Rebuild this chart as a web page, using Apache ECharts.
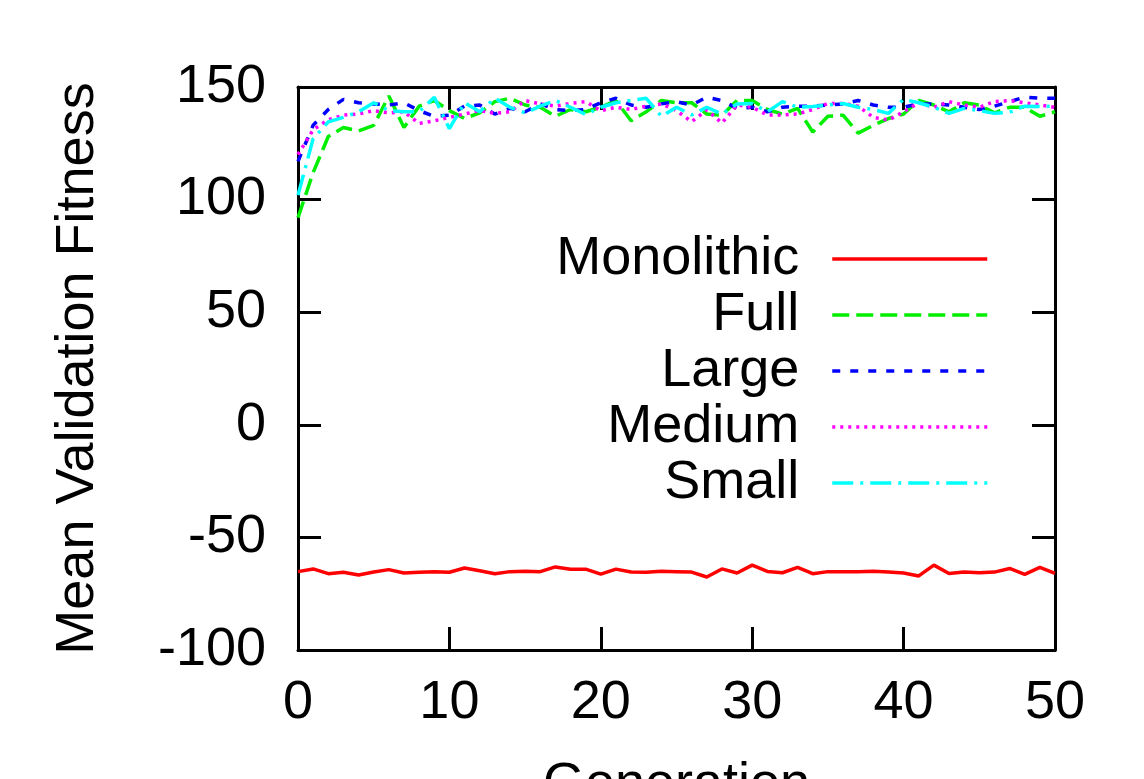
<!DOCTYPE html>
<html>
<head>
<meta charset="utf-8">
<script src="https://cdn.jsdelivr.net/npm/echarts@6/dist/echarts.min.js"></script>
<style>
  html, body { margin: 0; padding: 0; background: #fff; }
  #chart { width: 1144px; height: 779px; }
</style>
</head>
<body>
<div id="chart"></div>
<script>
const generation = [0, 1, 2, 3, 4, 5, 6, 7, 8, 9, 10, 11, 12, 13, 14, 15, 16, 17, 18, 19, 20,
  21, 22, 23, 24, 25, 26, 27, 28, 29, 30, 31, 32, 33, 34, 35, 36, 37, 38, 39, 40,
  41, 42, 43, 44, 45, 46, 47, 48, 49, 50];

const monolithic = [-65.2, -64.0, -66.1, -65.5, -66.7, -65.4, -64.3, -65.8, -65.5, -65.2,
  -65.5, -63.6, -64.8, -66.1, -65.2, -65.0, -65.2, -63.1, -64.1, -64.1,
  -66.3, -64.1, -65.4, -65.5, -65.0, -65.2, -65.4, -67.6, -64.0, -65.8,
  -62.3, -65.1, -65.7, -63.3, -66.1, -65.2, -65.2, -65.2, -65.0, -65.4,
  -65.8, -67.1, -62.3, -66.0, -65.4, -65.7, -65.4, -63.8, -66.4, -63.3, -66.0];

const full = [92, 112, 128, 132, 130.5, 133, 146, 132, 141.5, 144,
  139.5, 136, 138.5, 143.5, 145, 142, 141, 137, 140, 139,
  141, 144, 135, 139, 144, 143, 143, 138, 137.5, 144,
  144, 140, 138, 140.5, 130, 137, 137.5, 129.5, 133, 136,
  138, 144, 142, 139, 143, 142, 138.5, 141, 141, 137, 139];

const large = [117, 133, 140, 144.5, 143, 142.5, 142, 143, 139.5, 137,
  137.5, 141.5, 142, 138, 140.5, 139, 142.5, 140, 139.5, 140,
  143, 145, 142, 141, 142.5, 143.5, 142, 145.5, 144, 140.5,
  141, 139, 141, 141.5, 141.5, 142, 142.5, 144, 142, 141,
  141, 142.5, 142.5, 142, 141, 140, 141.5, 143.5, 145.5, 145, 145];

const medium = [120, 131, 135.5, 137.5, 138, 139.5, 138.5, 139, 133.8, 135,
  136.5, 138, 139.5, 138.3, 139, 144, 142.5, 141.5, 142.7, 143.5,
  139.5, 141, 140, 141.5, 142.5, 139.5, 134.6, 139.8, 134, 142,
  141, 137.6, 137.6, 138, 140, 142.7, 142.7, 141.5, 136.5, 135.3,
  139, 143, 141, 143.5, 142, 141, 143.5, 144, 143, 142, 141];

const small = [102, 127, 134.5, 136.5, 139, 143, 139.5, 139, 139, 145.5,
  131.5, 143, 139, 145, 141, 138.5, 141.5, 144, 141, 137.8,
  141, 143, 144, 145, 137, 141, 137.6, 141, 138, 142.5,
  142.7, 139, 143.5, 141, 141.3, 142, 142.7, 141, 140, 138.3,
  144.5, 143, 141, 138.3, 140.5, 139.5, 138.3, 138.8, 141.5, 141.3, 141.5];

const seriesNames = ['Monolithic', 'Full', 'Large', 'Medium', 'Small'];
const xTicks = { min: 0, max: 50, interval: 10 };
const yTicks = { min: -100, max: 150, interval: 50 };

const font = 'Liberation Sans';
const chart = echarts.init(document.getElementById('chart'));

function pairs(values) {
  return generation.map((g, i) => [g, values[i]]);
}

const axisLine = { show: true, onZero: false, lineStyle: { color: '#000', width: 3 } };
const axisTick = { show: true, inside: true, length: 23, lineStyle: { color: '#000', width: 3 } };

function line(name, values, color, type) {
  return {
    name: name,
    type: 'line',
    data: pairs(values),
    symbol: 'none',
    showSymbol: false,
    lineStyle: { color: color, width: 3.5, type: type },
    itemStyle: { color: color },
    z: 2
  };
}

chart.setOption({
  animation: false,
  backgroundColor: '#fff',
  textStyle: { fontFamily: font },
  grid: {
    left: 298, right: 89, top: 87, bottom: 129,
    containLabel: false, outerBoundsMode: 'none'
  },
  legend: {
    data: seriesNames,
    orient: 'vertical',
    align: 'right',
    right: 150,
    top: 226,
    itemWidth: 155,
    itemHeight: 14,
    itemGap: 0,
    itemStyle: { opacity: 0 },
    lineStyle: { width: 3.5 },
    textStyle: {
      fontFamily: font, fontSize: 54, color: '#000',
      lineHeight: 56, padding: [0, 28, 0, 0]
    },
    selectedMode: false
  },
  xAxis: [
    {
      type: 'value', position: 'bottom',
      min: xTicks.min, max: xTicks.max, interval: xTicks.interval,
      name: 'Generation', nameLocation: 'middle', nameGap: 108,
      nameTextStyle: { fontFamily: font, fontSize: 54, color: '#000' },
      axisLine: axisLine, axisTick: axisTick,
      axisLabel: { fontFamily: font, fontSize: 54, color: '#000', margin: 26 },
      splitLine: { show: false }
    },
    {
      type: 'value', position: 'top',
      min: xTicks.min, max: xTicks.max, interval: xTicks.interval,
      axisLine: axisLine, axisTick: axisTick,
      axisLabel: { show: false }, splitLine: { show: false }
    }
  ],
  yAxis: [
    {
      type: 'value', position: 'left',
      min: yTicks.min, max: yTicks.max, interval: yTicks.interval,
      name: 'Mean Validation Fitness', nameLocation: 'middle', nameGap: 193,
      nameTextStyle: { fontFamily: font, fontSize: 54, color: '#000' },
      axisLine: axisLine, axisTick: axisTick,
      axisLabel: { fontFamily: font, fontSize: 54, color: '#000', margin: 32 },
      splitLine: { show: false }
    },
    {
      type: 'value', position: 'right',
      min: yTicks.min, max: yTicks.max, interval: yTicks.interval,
      axisLine: axisLine, axisTick: axisTick,
      axisLabel: { show: false }, splitLine: { show: false }
    }
  ],
  series: [
    line('Monolithic', monolithic, '#ff0000', 'solid'),
    line('Full', full, '#00ee00', [17, 7]),
    line('Large', large, '#0000ff', [8, 10]),
    line('Medium', medium, '#ff00ff', [3, 5]),
    line('Small', small, '#00ffff', [21, 7, 3, 7])
  ]
});
</script>
</body>
</html>
